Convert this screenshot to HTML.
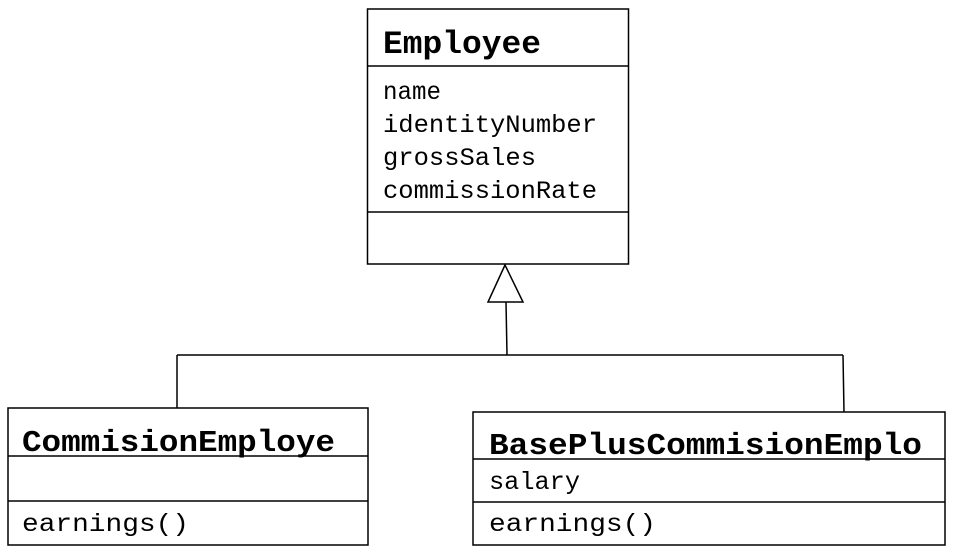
<!DOCTYPE html>
<html><head><style>body{margin:0;background:#fff}svg{display:block}</style></head>
<body>
<svg width="953" height="552" viewBox="0 0 953 552" xmlns="http://www.w3.org/2000/svg" font-family="Liberation Mono, monospace" fill="#000">
<g fill="none" stroke="#000" stroke-width="1.5">
<rect x="367.5" y="9" width="261" height="255"/>
<line x1="367.5" y1="66" x2="628.5" y2="66"/>
<line x1="367.5" y1="212" x2="628.5" y2="212"/>
<polygon points="505,265 488,302 523,302"/>
<line x1="506" y1="302" x2="507" y2="355"/>
<line x1="177" y1="355" x2="843" y2="355"/>
<line x1="177" y1="355" x2="177" y2="408"/>
<line x1="843" y1="355" x2="844" y2="412"/>
<rect x="8" y="408" width="360" height="137"/>
<line x1="8" y1="456" x2="368" y2="456"/>
<line x1="8" y1="501" x2="368" y2="501"/>
<rect x="473" y="412" width="472" height="133"/>
<line x1="473" y1="459" x2="945" y2="459"/>
<line x1="473" y1="502" x2="945" y2="502"/>
</g>
<text x="383" y="53" font-size="32" font-weight="bold" textLength="158" lengthAdjust="spacingAndGlyphs">Employee</text>
<text x="383" y="99" font-size="25" textLength="58" lengthAdjust="spacingAndGlyphs">name</text>
<text x="383" y="132" font-size="25" textLength="214" lengthAdjust="spacingAndGlyphs">identityNumber</text>
<text x="383" y="165" font-size="25" textLength="153" lengthAdjust="spacingAndGlyphs">grossSales</text>
<text x="383" y="198" font-size="25" textLength="214" lengthAdjust="spacingAndGlyphs">commissionRate</text>
<text x="22" y="451" font-size="31" font-weight="bold" textLength="313" lengthAdjust="spacingAndGlyphs">CommisionEmploye</text>
<text x="22" y="531" font-size="25" textLength="167" lengthAdjust="spacingAndGlyphs">earnings()</text>
<text x="489" y="454" font-size="31" font-weight="bold" textLength="433" lengthAdjust="spacingAndGlyphs">BasePlusCommisionEmplo</text>
<text x="489" y="489" font-size="25" textLength="91" lengthAdjust="spacingAndGlyphs">salary</text>
<text x="489" y="531" font-size="25" textLength="167" lengthAdjust="spacingAndGlyphs">earnings()</text>
</svg>
</body></html>
